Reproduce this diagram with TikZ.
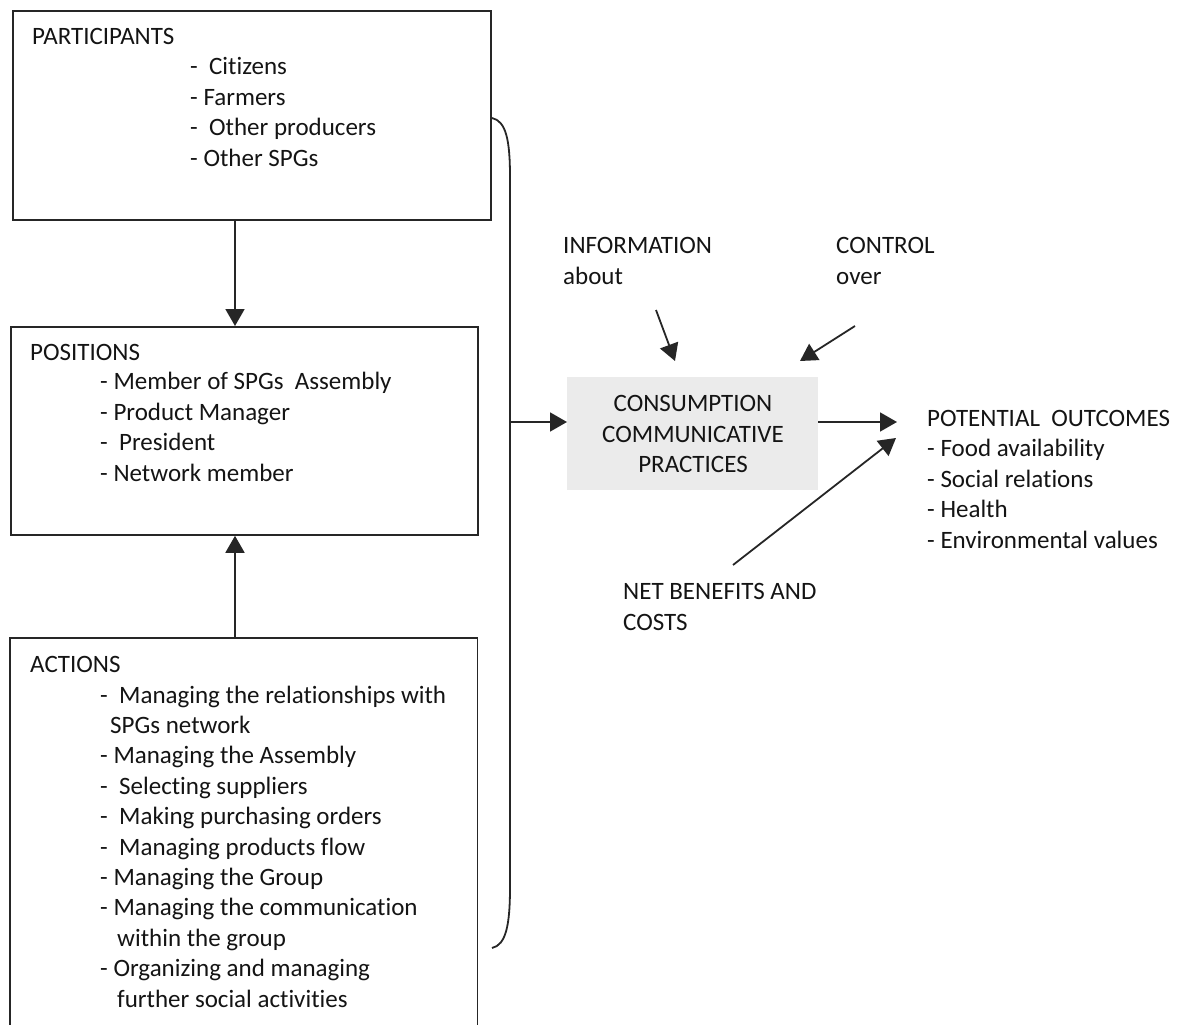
\documentclass[tikz,border=0pt]{standalone}
\usepackage{fontspec}
\setmainfont{Carlito}[Ligatures=NoCommon]
\usetikzlibrary{arrows.meta}
\begin{document}
\begin{tikzpicture}[x=1pt,y=-1pt,
  ink/.style={draw=black!85,line width=1.8pt},
  box/.style={ink,rectangle,inner sep=0pt,anchor=north west},
  txt/.style={anchor=base west,inner sep=0pt,align=left,text=black!92,
    font=\fontsize{25}{30.4}\selectfont},
  ctxt/.style={txt,align=center,anchor=center},
  arr/.style={ink,-{Triangle[length=17pt,width=19pt]}}]
\useasboundingbox (0,0) rectangle (1179,1025);

% left column of boxes
\node[box,minimum width=478pt,minimum height=209pt] (part) at (12,10) {};
\node[box,minimum width=467pt,minimum height=208pt] (pos) at (10,326) {};
\node[rectangle,inner sep=0pt,anchor=north west,minimum width=467pt,minimum height=400pt] (act) at (10,638) {};
\draw[ink] (act.south west) -- (act.north west) -- (act.north east) -- (act.south east);

% multi-line texts are placed by the baseline of their last line
\node[txt] (partT) at (32,45) {PARTICIPANTS};
\node[txt] (partL) at (190,166) {-\ \ Citizens\\- Farmers\\-\ \ Other producers\\- Other SPGs};

\node[txt] (posT) at (30,360) {POSITIONS};
\node[txt] (posL) at (100,481) {- Member of SPGs\ \ Assembly\\- Product Manager\\-\ \ President\\- Network member};

\node[txt] (actT) at (30,672) {ACTIONS};
\node[txt] (actL) at (100,1007) {-\ \ Managing the relationships with\\
  \hspace*{10pt}SPGs network\\
  - Managing the Assembly\\
  -\ \ Selecting suppliers\\
  -\ \ Making purchasing orders\\
  -\ \ Managing products flow\\
  - Managing the Group\\
  - Managing the communication\\
  \hspace*{17pt}within the group\\
  - Organizing and managing\\
  \hspace*{17pt}further social activities};

\coordinate (vx) at (235,0);
\draw[arr] (part.south -| vx) -- (pos.north -| vx);
\draw[arr] (act.north -| vx) -- (pos.south -| vx);

% bracket gathering the three boxes
\coordinate (brTop) at (492,118);
\coordinate (brBot) at (492,948);
\coordinate (brMid) at (510,422);
\draw[ink] (brTop) .. controls (506,121) and (510,140) .. (510,177)
  -- (510,887) .. controls (510,925) and (506,945) .. (brBot);

% central practices box
\node[rectangle,fill=black!8,inner sep=0pt,minimum width=251pt,minimum height=113pt,anchor=north west] (cons) at (567,377) {};
\node[ctxt] (consT) at (693,434) {CONSUMPTION\\COMMUNICATIVE\\PRACTICES};
\draw[arr] (brMid) -- (cons.west |- brMid);

\node[txt] (info) at (563,284) {INFORMATION\\about};
\node[txt] (ctrl) at (836,284) {CONTROL\\over};
\node[txt] (net) at (623,630) {NET BENEFITS AND\\COSTS};
\node[txt] (outc) at (927,548) {POTENTIAL\ \ OUTCOMES\\- Food availability\\- Social relations\\- Health\\- Environmental values};

\coordinate (infoS) at (656,310);
\coordinate (infoE) at (675,361);
\coordinate (ctrlS) at (855,326);
\coordinate (ctrlE) at (800,361);
\coordinate (netS) at (733,565);
\coordinate (netE) at (896,438);
\coordinate (outE) at (897,422);

\draw[arr] (infoS) -- (infoE);
\draw[arr] (ctrlS) -- (ctrlE);
\draw[arr] (cons.east |- outE) -- (outE);
\draw[arr] (netS) -- (netE);
\end{tikzpicture}
\end{document}
